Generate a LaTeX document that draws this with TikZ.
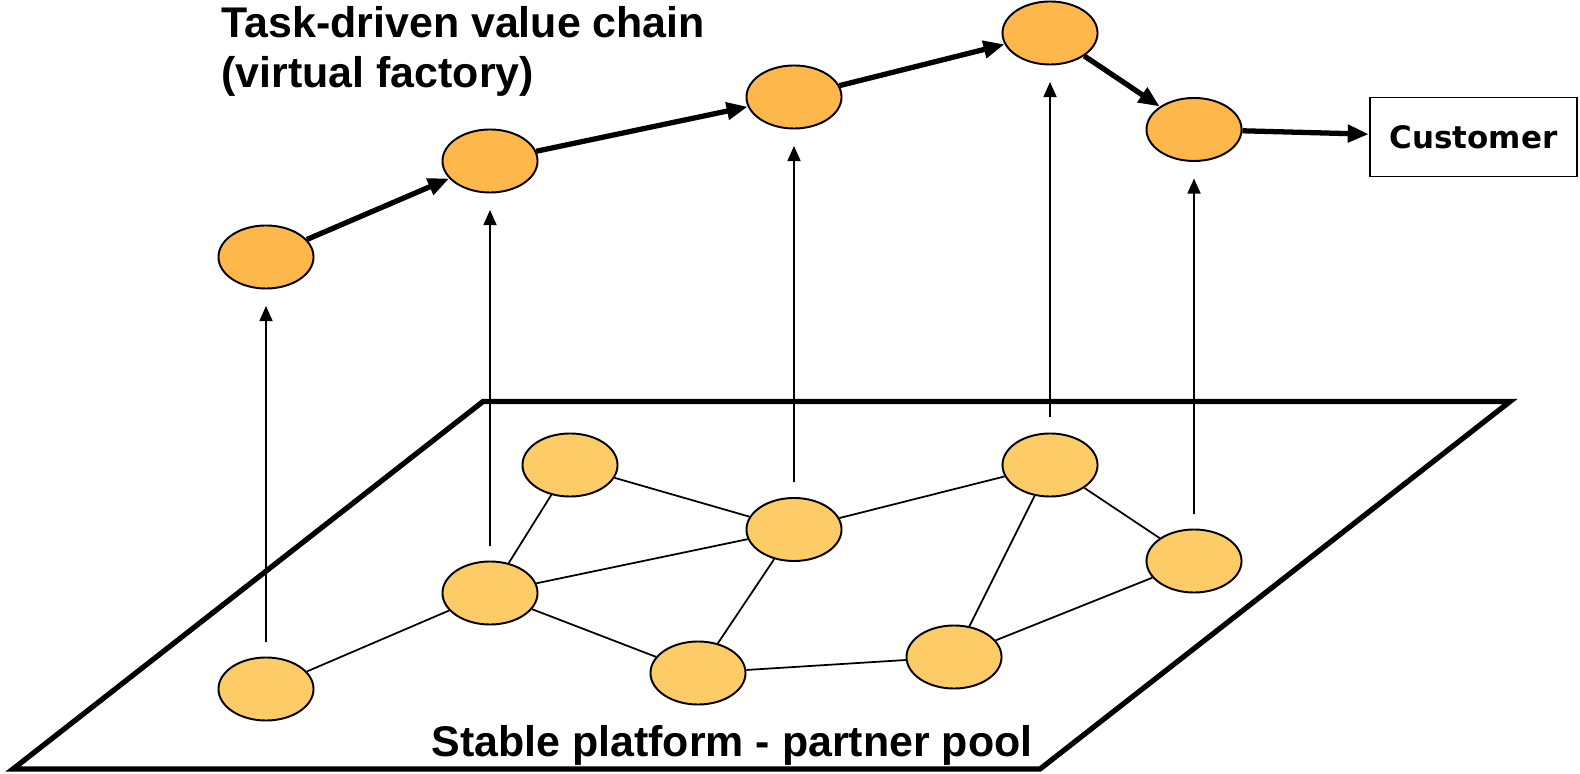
\documentclass[tikz,border=0pt]{standalone}
\usepackage{fontspec}
\setmainfont{Liberation Sans}
\newfontfamily\boxfont{DejaVu Sans}
\usetikzlibrary{positioning,shapes.geometric,arrows.meta}

\definecolor{chainfill}{RGB}{253,183,74}
\definecolor{poolfill}{RGB}{254,204,102}

\begin{document}
\begin{tikzpicture}[x=0.01cm, y=-0.01cm, every node/.style={font=\fontsize{12.2}{14.2}\selectfont\bfseries},
    firm/.style={ellipse, draw, line width=0.55pt, inner sep=0pt, minimum width=0.95cm, minimum height=0.63cm},
    link/.style={line width=0.5pt},
    rise/.style={line width=0.5pt, -{Triangle[length=4.3pt, width=3.7pt]}, shorten <=0.15cm, shorten >=0.165cm},
    flow/.style={line width=1.5pt, -{Triangle[length=6pt, width=4.8pt]}}]
    \useasboundingbox (0,0) rectangle (1580,774);
    % platform (partner pool)
    \draw[line width=1.5pt] (483,401.5) -- (1510,401.5) -- (1040,769) -- (13,769) -- cycle;
    \node[anchor=base] (pool_label) at (732,757) {Stable platform - partner pool};
    % partner pool nodes
    \foreach \n/\x/\y in {1/266/689, 2/490/593, 3/570/465, 4/794/529.5, 5/698/673, 6/954/657, 7/1050/465, 8/1194/561}
        \node[firm, fill=poolfill] (pool_\n) at (\x,\y) {};
    \foreach \a/\b in {1/2, 2/3, 2/4, 2/5, 3/4, 4/5, 4/7, 5/6, 6/7, 6/8, 7/8}
        \draw[link] (pool_\a) -- (pool_\b);
    % value chain nodes
    \foreach \n/\x/\y in {1/266/257, 2/490/161, 3/794/97, 4/1050/33, 5/1194/129.5}
        \node[firm, fill=chainfill] (chain_\n) at (\x,\y) {};
    \node[draw, line width=0.5pt, minimum width=2.075cm, minimum height=0.79cm, font=\boxfont\fontsize{8.8}{10}\selectfont\bfseries] (customer) at (1473.5,137) {Customer};
    \node[anchor=base west, align=left, inner sep=0pt] (title) at (221,87.7) {Task-driven value chain\\(virtual factory)};
    % chain arrows
    \foreach \a/\b in {1/2, 2/3, 3/4, 4/5}
        \draw[flow] (chain_\a) -- (chain_\b);
    \draw[flow] (chain_5) -- (customer);
    % sourcing arrows from pool to chain
    \foreach \a/\b in {1/1, 2/2, 4/3, 7/4, 8/5}
        \draw[rise] (pool_\a.north) -- (chain_\b.south);
\end{tikzpicture}
\end{document}
